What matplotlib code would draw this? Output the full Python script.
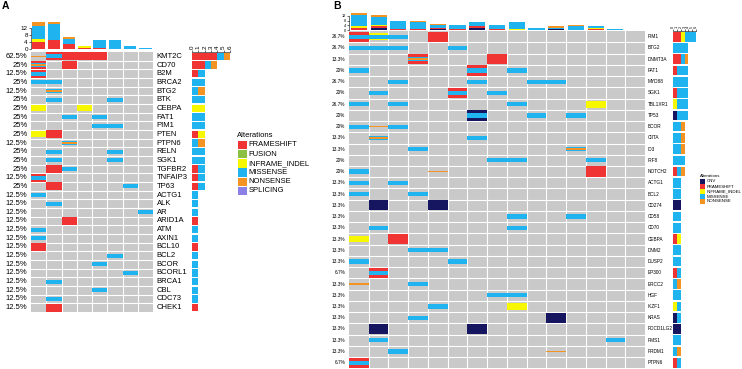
import matplotlib.pyplot as plt
from matplotlib.patches import Rectangle
import numpy as np

plt.rcParams['font.family'] = ['Liberation Sans', 'DejaVu Sans']

W, H = 742, 369

# alteration codes: C=CNV F=FRAMESHIFT U=FUSION I=INFRAME_INDEL M=MISSENSE N=NONSENSE S=SPLICING
colors = {"C": "#161660", "F": "#f03434", "U": "#8cc040", "I": "#f7f700",
          "M": "#1fb3ef", "N": "#f39324", "S": "#8b7fe8"}
names = {"C": "CNV", "F": "FRAMESHIFT", "U": "FUSION", "I": "INFRAME_INDEL",
         "M": "MISSENSE", "N": "NONSENSE", "S": "SPLICING"}
order = "CFUIMNS"
gray = "#c9c9c9"

# ---- panel A data (8 samples) ----
a_nsamp = 8
a_genes = ["KMT2C", "CD70", "B2M", "BRCA2", "BTG2", "BTK", "CEBPA", "FAT1", "PIM1",
           "PTEN", "PTPN6", "RELN", "SGK1", "TGFBR2", "TNFAIP3", "TP63", "ACTG1",
           "ALK", "AR", "ARID1A", "ATM", "AXIN1", "BCL10", "BCL2", "BCOR", "BCORL1",
           "BRCA1", "CBL", "CDC73", "CHEK1"]
# "column:codes" per gene
a_cells = ["0:N 1:FM 2:F 3:F 4:F", "0:FMN 2:F", "0:FM", "0:M 1:M", "1:MN", "1:M 5:M",
           "0:I 3:I", "2:M 4:M", "4:M 5:M", "0:I 1:F", "2:MN", "1:M 5:M", "1:M 5:M",
           "1:F 2:M", "0:FM", "1:F 6:M", "0:M", "1:M", "7:M", "2:F", "0:M", "0:M",
           "0:F", "5:M", "4:M", "6:M", "1:M", "4:M", "1:M", "1:F"]
a_legend = "FUIMNS"

# ---- panel B data (15 samples) ----
b_nsamp = 15
b_genes = ["PIM1", "BTG2", "DNMT3A", "FAT1", "MYD88", "SGK1", "TBL1XR1", "TP53", "BCOR",
           "CIITA", "ID3", "IRF8", "NOTCH2", "ACTG1", "BCL2", "CD274", "CD58", "CD70",
           "CEBPA", "DNM2", "DUSP2", "EP300", "ERCC2", "HGF", "IKZF1", "KRAS",
           "PDCD1LG2", "PMS1", "PRDM1", "PTPN6"]
b_cells = ["0:FM 1:IM 2:M 4:F", "0:M 1:M 2:M 5:M", "3:FMN 7:F", "0:M 6:FM 8:M",
           "2:M 6:M 9:M 10:M", "1:M 5:FM 7:M", "0:M 2:M 8:M 12:I", "6:CM 9:M 11:M",
           "0:M 1:N 2:M", "1:MN 6:M", "3:M 11:MN", "7:M 8:M 12:M", "0:M 4:N 12:F",
           "0:M 2:M", "0:M 3:M", "1:C 4:C", "8:M 11:M", "1:M 8:M", "0:I 2:F",
           "3:M 4:M", "0:M 5:M", "1:FM", "0:N 3:M", "7:M 8:M", "4:M 8:I", "3:M 10:C",
           "1:C 6:C", "1:M 13:M", "2:M 10:N", "0:FM"]
b_legend = "CFIMN"

a_heights = {"F": 0.92, "I": 0.66, "U": 0.5, "M": 0.46, "N": 0.18, "S": 0.18}
b_heights = {"C": 0.92, "F": 0.92, "I": 0.6, "M": 0.38, "N": 0.14}


def parse(cells):
    out = []
    for row in cells:
        items = []
        for it in row.split():
            c, codes = it.split(":")
            items.append((int(c), codes))
        out.append(items)
    return out


def counts(parsed, nsamp):
    nrow = len(parsed)
    rc = {k: np.zeros(nrow) for k in order}
    cc = {k: np.zeros(nsamp) for k in order}
    for r, items in enumerate(parsed):
        for c, codes in items:
            for k in codes:
                rc[k][r] += 1
                cc[k][c] += 1
    return rc, cc


def ax_px(fig, x0, y0, x1, y1):
    return fig.add_axes([x0 / W, 1 - y1 / H, (x1 - x0) / W, (y1 - y0) / H])


def panel(fig, genes, cells, nsamp, heights, box, top_box, right_box, fs, tick_fs,
          lab_off, lw):
    parsed = parse(cells)
    nrow = len(genes)
    rc, cc = counts(parsed, nsamp)
    n_alt = np.array([len(items) for items in parsed])

    # main grid
    ax = ax_px(fig, *box)
    ax.set_facecolor(gray)
    ax.set_xlim(0, nsamp)
    ax.set_ylim(nrow, 0)
    for c in range(1, nsamp):
        ax.axvline(c, color="white", lw=lw, zorder=1)
    for r in range(1, nrow):
        ax.axhline(r, color="white", lw=lw, zorder=1)
    for r, items in enumerate(parsed):
        for c, codes in items:
            for k in sorted(codes, key=lambda k: -heights[k]):
                h = heights[k]
                ax.add_patch(Rectangle((c, r + 0.5 - h / 2), 1, h, facecolor=colors[k],
                                       lw=0, zorder=3))
    for s in ax.spines.values():
        s.set_visible(False)
    ax.set_xticks([])
    ax.set_yticks([])
    for r in range(nrow):
        pct = f"{100 * n_alt[r] / nsamp:.1f}".rstrip("0").rstrip(".") + "%"
        ax.text(-lab_off[0], r + 0.5, pct, ha="right", va="center", fontsize=fs)
        ax.text(nsamp + lab_off[1], r + 0.5, genes[r], ha="left", va="center",
                fontsize=fs)

    # top bars: alterations per sample
    axt = ax_px(fig, *top_box)
    bottom = np.zeros(nsamp)
    for k in order:
        if cc[k].sum() == 0:
            continue
        axt.bar(np.arange(nsamp) + 0.5, cc[k], bottom=bottom, width=0.82,
                color=colors[k], lw=0)
        bottom += cc[k]
    axt.set_xlim(0, nsamp)
    axt.set_ylim(0, 16)
    axt.set_yticks([0, 4, 8, 12])
    axt.set_xticks([])
    for s in ["top", "right", "bottom"]:
        axt.spines[s].set_visible(False)
    axt.spines["left"].set_linewidth(0.4)
    axt.spines["left"].set_bounds(0, 12)
    axt.tick_params(axis="y", labelsize=tick_fs, length=1.5, width=0.4, pad=0.8)
    axt.patch.set_alpha(0)

    # right bars: alterations per gene
    axr = ax_px(fig, *right_box)
    left = np.zeros(nrow)
    for k in order:
        if rc[k].sum() == 0:
            continue
        axr.barh(np.arange(nrow) + 0.5, rc[k], left=left, height=0.86,
                 color=colors[k], lw=0)
        left += rc[k]
    axr.set_xlim(0, 6)
    axr.set_ylim(nrow, 0)
    axr.set_yticks([])
    axr.set_xticks(range(7))
    axr.xaxis.tick_top()
    for s in ["bottom", "right", "left"]:
        axr.spines[s].set_visible(False)
    axr.spines["top"].set_linewidth(0.4)
    axr.tick_params(axis="x", labelsize=tick_fs, length=1.5, width=0.4, pad=0.8,
                    labelrotation=90)
    axr.patch.set_alpha(0)


fig = plt.figure(figsize=(W / 100, H / 100), dpi=100)

panel(fig, a_genes, a_cells, a_nsamp, a_heights,
      (31, 52, 153, 312), (31, 20.5, 153, 49.3), (192, 52, 230, 312),
      5.5, 4.5, (0.23, 0.24), 0.8)
panel(fig, b_genes, b_cells, b_nsamp, b_heights,
      (349, 31.1, 645, 368.3), (349, 11, 645, 30), (673, 31.1, 696, 368.3),
      3.4, 2.8, (0.2, 0.15), 0.8)

# overlay in pixel coordinates for panel letters and legends
ov = fig.add_axes([0, 0, 1, 1])
ov.set_xlim(0, W)
ov.set_ylim(H, 0)
ov.axis("off")
ov.text(2, 6, "A", fontsize=7.5, fontweight="bold", va="center", ha="left")
ov.text(333, 6, "B", fontsize=7.5, fontweight="bold", va="center", ha="left")

ov.text(237, 135.7, "Alterations", fontsize=5.5, va="center", ha="left")
for i, k in enumerate(a_legend):
    y = 145 + 9.2 * i
    ov.add_patch(Rectangle((238, y - 4.3), 8.5, 8.6, facecolor=colors[k], lw=0))
    ov.text(248.5, y, names[k], fontsize=5.5, va="center", ha="left")

ov.text(699.5, 176, "Alterations", fontsize=3.2, va="center", ha="left")
for i, k in enumerate(b_legend):
    y = 181.5 + 5 * i
    ov.add_patch(Rectangle((700, y - 2.4), 5, 4.8, facecolor=colors[k], lw=0))
    ov.text(706.5, y, names[k], fontsize=3.2, va="center", ha="left")

fig.savefig("out.png", dpi=100)
